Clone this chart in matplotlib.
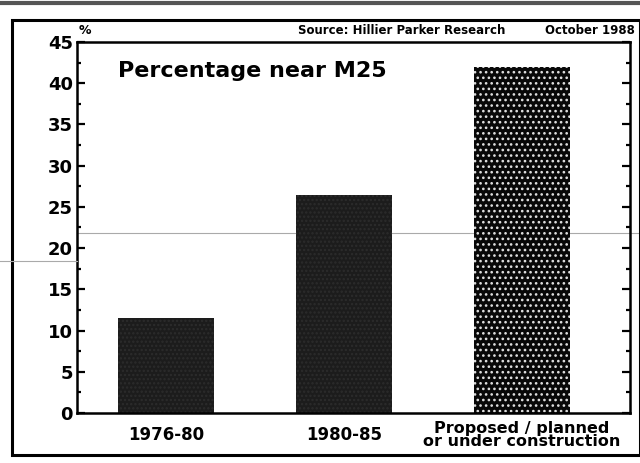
import matplotlib.pyplot as plt
from matplotlib.lines import Line2D
from matplotlib.patches import Rectangle
from matplotlib.ticker import MultipleLocator

plt.rcParams['font.family'] = ['DejaVu Sans']
plt.rcParams['hatch.linewidth'] = 1.1

# ----------------------------
# Data
# ----------------------------
periods = ["1976-80", "1980-85", "Proposed / planned\nor under construction"]
share_near_m25 = [11.5, 26.5, 42]

fig = plt.figure(figsize=(6.4, 4.63), dpi=100)
W, H = 640, 463

# axes box in pixel terms
left, right, top, bottom = 77, 630, 42, 413
ax = fig.add_axes([left / W, 1 - bottom / H, (right - left) / W, (bottom - top) / H])

x = list(range(len(periods)))
bars = ax.bar(x, share_near_m25, width=0.54, color="#1c1c1c", edgecolor="#2c2c2c",
              hatch="....", linewidth=0, zorder=2)
# the forward-looking bar is a dotted screen
bars[2].set_facecolor("#080808")
bars[2].set_edgecolor("#e0e0e0")
bars[2].set_hatch("...")

ax.set_xlim(-0.5, 2.61)
ax.set_ylim(0, 45)
ax.yaxis.set_major_locator(MultipleLocator(5))
ax.yaxis.set_minor_locator(MultipleLocator(2.5))
ax.tick_params(axis="y", which="both", direction="in", right=True, width=1.6,
               labelsize=13, pad=3)
ax.tick_params(axis="y", which="major", length=6)
ax.tick_params(axis="y", which="minor", length=3)
ax.tick_params(axis="x", length=0, pad=16)
ax.set_xticks(x)
ax.set_xticklabels(periods, fontsize=12, fontweight="bold", linespacing=0.8)
for lab in ax.get_xticklabels():
    lab.set_verticalalignment("center")
ax.get_xticklabels()[2].set_fontsize(11.5)
for lab in ax.get_yticklabels():
    lab.set_fontweight("bold")
for s in ax.spines.values():
    s.set_linewidth(1.8)

ax.text(0.075, 0.95, "Percentage near M25", transform=ax.transAxes,
        fontsize=16, fontweight="bold", va="top", ha="left")

# faint fold line across the page, behind the bars
ax.add_line(Line2D([77 / W, 1], [1 - 233 / H] * 2, transform=fig.transFigure,
                   lw=0.8, color="#aaaaaa", zorder=1, clip_on=False))
fig.add_artist(Line2D([0, 77 / W], [1 - 261 / H] * 2, transform=fig.transFigure,
                      lw=0.8, color="#aaaaaa"))

fig.text(79 / W, 1 - 30 / H, "%", fontsize=9, fontweight="bold", va="center")
fig.text(298 / W, 1 - 30 / H, "Source: Hillier Parker Research",
         fontsize=8.5, fontweight="bold", ha="left", va="center")
fig.text(545 / W, 1 - 30 / H, "October 1988",
         fontsize=8.5, fontweight="bold", ha="left", va="center")

# outer frame of the printed figure
fig.add_artist(Rectangle((12 / W, 1 - 455 / H), (640 - 12) / W, (455 - 20) / H,
                         transform=fig.transFigure, fill=False, lw=2.2, color="black"))
fig.add_artist(Line2D([0, 1], [1 - 3 / H, 1 - 3 / H], transform=fig.transFigure,
                      lw=3, color="#555555"))

fig.savefig("out.png", dpi=100)
